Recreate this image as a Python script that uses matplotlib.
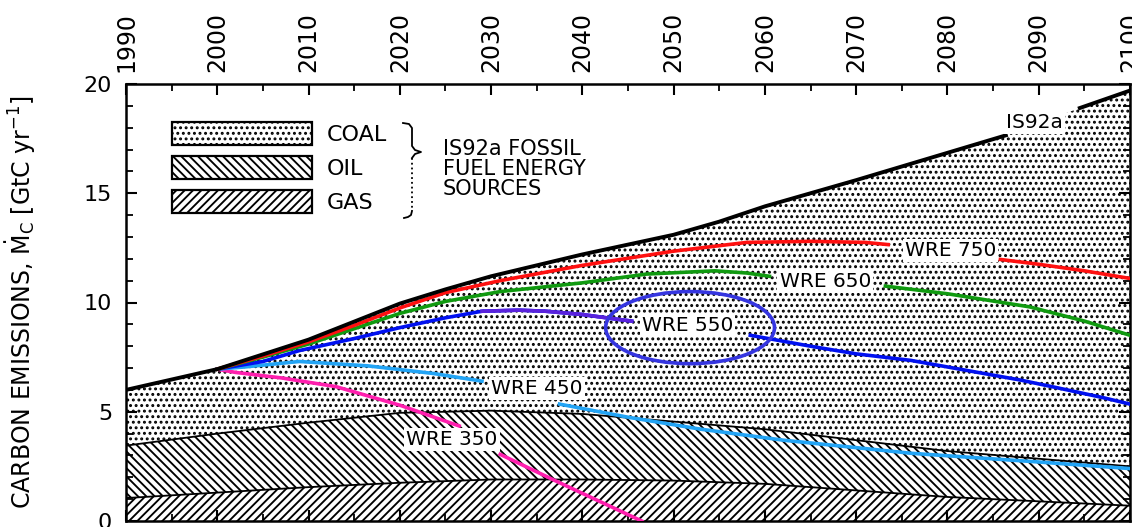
import numpy as np
import matplotlib
matplotlib.use("Agg")
import matplotlib.pyplot as plt
from matplotlib.patches import Patch, Ellipse
from matplotlib.lines import Line2D
from matplotlib.ticker import MultipleLocator

plt.rcParams["font.family"] = ["DejaVu Sans"]
plt.rcParams["font.size"] = 14
plt.rcParams["hatch.linewidth"] = 1.35

# IS92a total fossil emissions (GtC/yr)
is92a_years = [1990, 2000, 2010, 2020, 2025, 2030, 2040, 2050, 2055, 2060, 2070, 2080, 2086.4, 2090, 2094.5, 2100]
is92a = [6.0, 6.95, 8.3, 9.95, 10.6, 11.2, 12.2, 13.1, 13.7, 14.4, 15.6, 16.85, 17.65, 18.2, 18.9, 19.7]
is92a_gap = (2086.4, 2094.5)

# fuel split boundaries
fuel_years = [1990, 2000, 2010, 2020, 2030, 2040, 2050, 2060, 2070, 2080, 2090, 2100]
oil_top = [3.45, 4.0, 4.5, 4.95, 5.05, 4.9, 4.55, 4.2, 3.7, 3.2, 2.85, 2.5]
gas_top = [1.05, 1.3, 1.55, 1.75, 1.9, 1.9, 1.85, 1.7, 1.4, 1.1, 0.9, 0.7]

# WRE stabilisation pathways (nan = gap for label)
nan = np.nan
wre750_years = [2000, 2005, 2010, 2015, 2020, 2025, 2031, 2040, 2050, 2058, 2065, 2071, 2073.5, nan, 2085.8, 2090, 2095, 2100]
wre750 = [6.95, 7.55, 8.2, 8.95, 9.75, 10.45, 11.0, 11.7, 12.35, 12.75, 12.8, 12.75, 12.65, nan, 11.97, 11.75, 11.45, 11.1]

wre650_years = [2000, 2005, 2010, 2015, 2020, 2025, 2031, 2040, 2047, 2054.5, 2058, 2060.5, nan, 2073.2, 2080, 2089, 2095, 2100]
wre650 = [6.95, 7.5, 8.1, 8.8, 9.5, 10.05, 10.5, 10.9, 11.3, 11.45, 11.35, 11.2, nan, 10.75, 10.4, 9.8, 9.15, 8.5]

wre550_years = [2000, 2005, 2009, 2015, 2020, 2025, 2029, 2033, 2036, 2040, 2043.5, 2045.4, nan, 2058.4, 2065, 2070, 2076, 2088, 2092, 2097, 2100]
wre550 = [6.95, 7.3, 7.8, 8.35, 8.85, 9.3, 9.6, 9.65, 9.6, 9.45, 9.25, 9.15, nan, 8.5, 8.0, 7.65, 7.35, 6.45, 6.1, 5.65, 5.35]
wre550_purple = (2026, 2046)

wre450_years = [2000, 2003, 2009, 2016.5, 2023.7, 2029, nan, 2037.5, 2045, 2053, 2062, 2076, 2090, 2100]
wre450 = [6.95, 7.05, 7.3, 7.1, 6.75, 6.4, nan, 5.35, 4.75, 4.2, 3.7, 3.1, 2.7, 2.4]

wre350_years = [2000, 2002, 2007, 2013, 2020, 2026.5, nan, 2031, 2037, 2046.5]
wre350 = [6.95, 6.8, 6.55, 6.15, 5.3, 4.35, nan, 3.05, 1.85, 0.0]

# curve labels: text, year, value
curve_labels = [
    ("IS92a", 2086.4, 18.25),
    ("WRE 750", 2075.3, 12.4),
    ("WRE 650", 2061.6, 10.95),
    ("WRE 550", 2046.5, 8.95),
    ("WRE 450", 2030.0, 6.05),
    ("WRE 350", 2020.7, 3.75),
]

fig = plt.figure(figsize=(11.32, 5.27), dpi=100)
ax = fig.add_axes([126 / 1132, 6 / 527, 1004 / 1132, 437 / 527])

# stacked fuel areas
ax.fill_between(fuel_years, 0, gas_top, facecolor="white", edgecolor="black", hatch="////", lw=0, zorder=1)
ax.fill_between(fuel_years, gas_top, oil_top, facecolor="white", edgecolor="black", hatch="\\\\\\\\", lw=0, zorder=1)
ax.fill(np.r_[is92a_years, fuel_years[::-1]], np.r_[is92a, oil_top[::-1]],
        facecolor="white", edgecolor="black", hatch="...", lw=0, zorder=1)
ax.plot(fuel_years, gas_top, color="black", lw=1.3, zorder=2)
ax.plot(fuel_years, oil_top, color="black", lw=1.3, zorder=2)

# WRE lines
ax.plot(wre350_years, wre350, color="#ff1fae", lw=2.6, zorder=3)
ax.plot(wre450_years, wre450, color="#22a4f5", lw=2.6, zorder=3)
ax.plot(wre550_years, wre550, color="#0010f0", lw=2.6, zorder=3)
yr = np.array(wre550_years)
mask = (yr >= wre550_purple[0]) & (yr <= wre550_purple[1])
ax.plot(yr[mask], np.array(wre550)[mask], color="#5a22dc", lw=2.6, zorder=3)
ax.plot(wre650_years, wre650, color="#109a10", lw=2.6, zorder=3)
ax.plot(wre750_years, wre750, color="#ff1010", lw=2.6, zorder=3)

# IS92a line with gap for label
iy = np.array(is92a_years)
iv = np.array(is92a)
ax.plot(iy[iy <= is92a_gap[0]], iv[iy <= is92a_gap[0]], color="black", lw=2.8, zorder=4)
ax.plot(iy[iy >= is92a_gap[1]], iv[iy >= is92a_gap[1]], color="black", lw=2.8, zorder=4)

for txt, x, y in curve_labels:
    ax.text(x, y, txt, ha="left", va="center", fontsize=14.5, zorder=5,
            bbox=dict(facecolor="white", edgecolor="none", pad=1.5))

ax.add_patch(Ellipse((2051.8, 8.85), 18.5, 3.3, fill=False, edgecolor="#3535e0", lw=2.6, zorder=6))

# legend boxes
handles = [
    Patch(facecolor="white", edgecolor="black", hatch="...", lw=1.6),
    Patch(facecolor="white", edgecolor="black", hatch="\\\\\\\\", lw=1.6),
    Patch(facecolor="white", edgecolor="black", hatch="////", lw=1.6),
]
ax.legend(handles, ["COAL", "OIL", "GAS"], loc="upper left", bbox_to_anchor=(0.0458, 0.913),
          frameon=False, borderpad=0, borderaxespad=0, handlelength=6.3, handleheight=1.22,
          labelspacing=0.5, handletextpad=0.68, fontsize=16)

# brace (figure pixel coords)
def px(xs, ys):
    return np.array(xs) / 1132, 1 - np.array(ys) / 527

bx, by = px([403, 409, 412, 412, 415, 421, 415, 412], [123, 124, 128, 146, 150, 152, 154, 158])
fig.add_artist(Line2D(bx, by, color="black", lw=1.3, transform=fig.transFigure))
bx, by = px([412, 412], [158, 211])
fig.add_artist(Line2D(bx, by, color="black", lw=1.3, ls=":", transform=fig.transFigure))
bx, by = px([412, 411, 408, 404], [211, 215, 217, 218])
fig.add_artist(Line2D(bx, by, color="black", lw=1.3, transform=fig.transFigure))
fig.text(443 / 1132, 1 - 139 / 527, "IS92a FOSSIL\nFUEL ENERGY\nSOURCES", ha="left", va="top",
         fontsize=15, linespacing=1.0)

ax.set_xlim(1990, 2100)
ax.set_ylim(0, 20)
ax.xaxis.set_major_locator(MultipleLocator(10))
ax.xaxis.set_minor_locator(MultipleLocator(5))
ax.yaxis.set_major_locator(MultipleLocator(5))
ax.yaxis.set_minor_locator(MultipleLocator(1))
ax.tick_params(axis="x", which="both", top=True, bottom=True, labeltop=True, labelbottom=False,
               direction="in", labelrotation=90, labelsize=17, pad=9)
ax.tick_params(axis="y", which="both", left=True, right=True, direction="in", labelsize=16, pad=10)
ax.tick_params(which="major", length=8, width=1.5)
ax.tick_params(which="minor", length=5, width=1.3)
for s in ax.spines.values():
    s.set_linewidth(1.8)

ax.set_ylabel(r"CARBON EMISSIONS, $\dot{\mathrm{M}}_{\mathrm{C}}$ [GtC yr$^{-1}$]", fontsize=17)
ax.yaxis.set_label_coords(-0.088, 0.5)

fig.savefig("out.png", dpi=100)
